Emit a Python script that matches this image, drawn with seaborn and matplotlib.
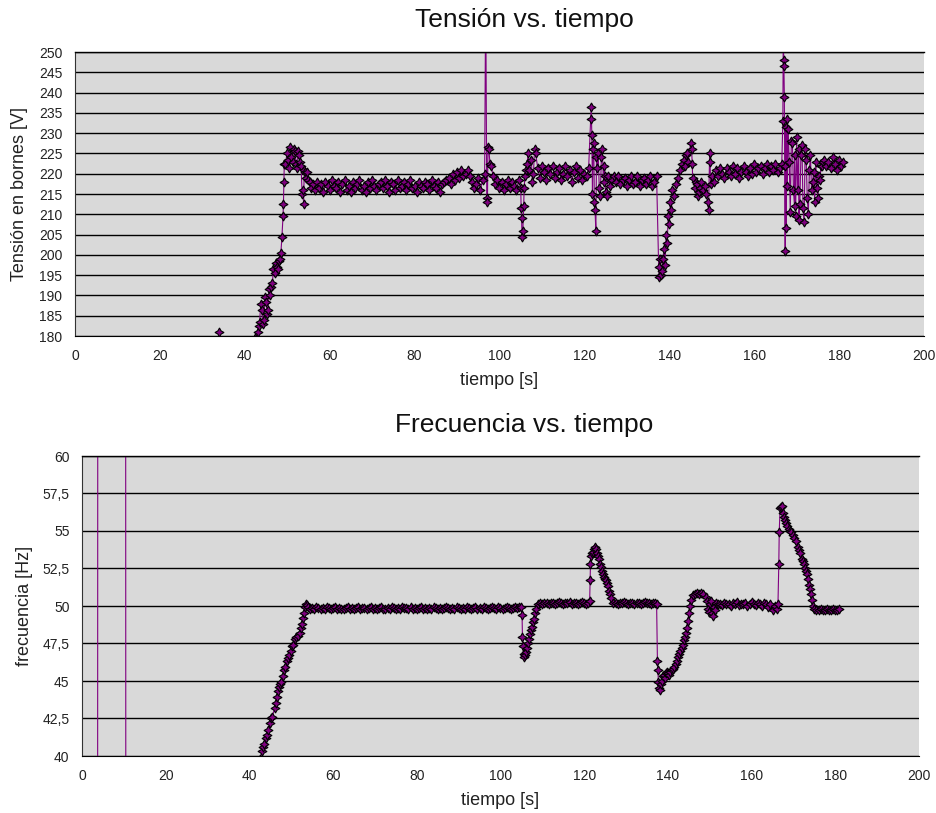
import matplotlib
matplotlib.use("Agg")
import matplotlib.pyplot as plt
import seaborn as sns
import numpy as np
import pandas as pd

# Tensión en bornes [V]: muestras cada 0,5 s a partir de t = 42,5 s
tension_inicio = 42.5
tension_v = [
    179.5, 181.0, 183.5, 186.5, 184.0, 188.5, 186.5, 190.0, 193.0, 195.5,  # 42.5
    197.0, 198.5, 200.5, 209.5, 222.5, 225.0, 221.5, 224.0, 226.0, 222.5,  # 47.5
    225.5, 223.0, 215.0, 221.0, 219.0, 218.5, 216.5, 217.5, 216.0, 218.0,  # 52.5
    216.5, 217.5, 215.5, 218.0, 217.0, 216.0, 218.5, 217.0, 216.5, 218.0,  # 57.5
    215.5, 217.5, 218.5, 216.0, 217.0, 215.5, 218.0, 216.5, 217.5, 218.5,  # 62.5
    216.0, 217.0, 215.5, 218.0, 216.5, 218.5, 217.0, 216.0, 217.5, 218.0,  # 67.5
    216.5, 218.5, 217.0, 215.5, 218.0, 217.5, 216.0, 218.5, 216.5, 217.0,  # 72.5
    218.0, 216.0, 217.5, 218.5, 216.5, 217.0, 215.5, 218.0, 217.0, 216.5,  # 77.5
    218.0, 217.5, 216.0, 218.5, 217.0, 216.5, 218.0, 215.5, 217.5, 218.0,  # 82.5
    218.5, 219.0, 217.5, 220.0, 218.5, 220.5, 219.0, 221.0, 219.5, 220.0,  # 87.5
    221.0, 219.5, 218.0, 216.5, 217.5, 219.0, 216.0, 218.5, 220.0, 214.0,  # 92.5
    226.0, 222.0, 219.5, 217.5, 218.5, 216.5, 218.0, 216.0, 217.5, 218.5,  # 97.5
    216.5, 218.0, 217.0, 216.0, 218.5, 216.5, 206.0, 219.5, 222.5, 221.0,  # 102.5
    223.5, 220.0, 225.0, 221.5, 219.0, 222.0, 220.5, 218.5, 221.5, 220.0,  # 107.5
    222.0, 219.0, 220.5, 221.5, 218.5, 220.0, 222.0, 219.5, 221.0, 218.0,  # 112.5
    220.5, 222.0, 219.0, 221.0, 218.5, 220.0, 219.5, 221.5, 233.5, 226.0,  # 117.5
    211.0, 221.5, 216.5, 224.0, 218.0, 215.5, 219.5, 217.0, 218.5, 219.5,  # 122.5
    218.0, 219.5, 217.5, 218.5, 219.0, 217.0, 218.5, 219.5, 217.5, 218.0,  # 127.5
    219.5, 217.0, 218.5, 219.0, 217.5, 218.5, 219.5, 217.0, 218.0, 219.5,  # 132.5
    197.0, 195.0, 199.0, 197.5, 203.0, 207.5, 211.0, 214.5, 217.5, 219.0,  # 137.5
    221.0, 222.5, 223.5, 224.5, 223.0, 227.5, 219.0, 216.5, 217.5, 215.5,  # 142.5
    218.0, 216.0, 217.0, 213.0, 225.0, 219.5, 218.0, 221.0, 219.5, 221.5,  # 147.5
    220.0, 219.0, 221.5, 220.5, 219.5, 222.0, 220.0, 221.5, 219.0, 220.5,  # 152.5
    222.0, 220.5, 219.5, 221.5, 220.0, 222.5, 220.5, 221.5, 222.0, 220.0,  # 157.5
    221.5, 222.5, 220.5, 222.0, 221.0, 222.5, 220.5, 221.5, 222.5, 246.5,  # 162.5
    206.5, 231.0, 210.5, 227.5, 212.0, 229.0, 208.5, 224.5, 211.5, 226.0,  # 167.5
    214.0, 221.0, 216.0, 220.5, 223.0, 214.0, 218.5, 222.0, 223.5, 222.0,  # 172.5
    223.0, 221.5, 224.0, 222.5, 221.0, 223.5, 222.0, 223.0,                # 177.5
]
# muestras sueltas y transitorios (t [s], V)
tension_extra_t = [
    34.0, 35.0, 40.0, 42.0,
    43.25, 43.75, 44.25, 44.75, 45.25, 45.75, 46.25, 46.75, 47.25, 47.75, 48.25,
    48.75, 49.1, 49.2, 49.3,
    50.25, 50.75, 51.25, 51.75, 52.25, 52.75, 53.25, 53.75, 53.85, 54.25, 54.75, 55.25,
    96.75, 97.15, 97.3, 97.75,
    105.1, 105.2, 105.3, 105.7, 105.8, 106.25, 106.75, 107.75, 108.25,
    121.6, 121.75, 121.9, 122.2, 122.35, 122.7, 122.85, 123.25, 123.75, 124.2, 124.7, 124.85, 125.25,
    137.65, 137.8, 138.25, 138.75, 139.25, 139.75, 140.25, 140.75,
    143.75, 144.25, 145.25, 145.4, 146.25, 146.75, 147.25,
    148.75, 149.25, 149.6, 149.75,
    166.75, 166.85, 166.95, 167.1, 167.2, 167.3, 167.4, 167.65, 167.8, 168.25, 168.75,
    169.25, 169.5, 169.75, 170.25, 170.5, 170.75, 171.25, 171.75, 172.25, 172.75,
    173.25, 173.75, 174.25, 174.75, 175.25, 175.75, 176.25,
]
tension_extra_v = [
    181.0, 165.0, 168.0, 176.0,
    182.5, 188.0, 183.0, 189.5, 185.5, 191.5, 192.0, 196.5, 198.0, 196.5, 199.0,
    204.5, 212.5, 218.0, 222.5,
    223.5, 226.5, 223.0, 225.5, 221.5, 224.5, 222.0, 216.0, 212.5, 220.5, 220.5, 218.0,
    265.0, 213.0, 226.5, 222.5,
    211.5, 209.0, 204.5, 212.0, 216.5, 221.0, 225.0, 218.0, 226.0,
    236.5, 229.5, 215.0, 227.5, 213.0, 206.0, 224.0, 225.0, 214.5, 226.0, 222.0, 219.5, 214.5,
    194.5, 199.0, 196.0, 201.5, 205.0, 209.5, 213.0, 216.0,
    222.0, 225.0, 226.0, 222.5, 218.0, 214.5, 216.5,
    215.0, 211.0, 223.0, 217.5,
    233.0, 256.0, 248.0, 239.0, 222.0, 201.0, 231.5, 233.5, 217.0, 223.0, 228.0,
    216.0, 224.5, 209.5, 216.0, 226.0, 212.5, 227.0, 208.0, 223.5, 210.0,
    224.5, 218.0, 213.0, 216.5, 219.5, 222.0, 223.0,
]

# Frecuencia [Hz]: muestras cada 0,5 s a partir de t = 42,5 s
frec_inicio = 42.5
frec_v = [
    39.8, 40.3, 40.8, 41.2, 41.7, 42.2, 42.6, 43.2, 43.9, 44.6,  # 42.5
    44.9, 45.3, 45.9, 46.3, 46.7, 47.0, 47.4, 47.8, 48.0, 48.2,  # 47.5
    48.8, 49.5, 50.1, 49.9, 49.8, 49.85, 49.8, 49.9, 49.85, 49.8,  # 52.5
    49.85, 49.8, 49.9, 49.85, 49.8, 49.85, 49.9, 49.8, 49.85, 49.8,  # 57.5
    49.8, 49.85, 49.9, 49.8, 49.85, 49.8, 49.85, 49.9, 49.8, 49.85,  # 62.5
    49.85, 49.8, 49.85, 49.9, 49.8, 49.85, 49.8, 49.85, 49.9, 49.8,  # 67.5
    49.8, 49.85, 49.8, 49.9, 49.85, 49.8, 49.85, 49.8, 49.9, 49.85,  # 72.5
    49.85, 49.8, 49.9, 49.8, 49.85, 49.8, 49.85, 49.9, 49.8, 49.85,  # 77.5
    49.8, 49.85, 49.8, 49.9, 49.85, 49.8, 49.85, 49.8, 49.85, 49.9,  # 82.5
    49.85, 49.8, 49.85, 49.8, 49.9, 49.85, 49.8, 49.85, 49.8, 49.9,  # 87.5
    49.85, 49.8, 49.85, 49.9, 49.8, 49.85, 49.8, 49.9, 49.85, 49.8,  # 92.5
    49.85, 49.9, 49.85, 49.8, 49.9, 49.85, 49.8, 49.85, 49.9, 49.85,  # 97.5
    49.8, 49.85, 49.9, 49.85, 49.9, 49.95, 46.8, 46.9, 47.5, 48.1,  # 102.5
    48.6, 49.1, 49.8, 50.1, 50.2, 50.15, 50.2, 50.2, 50.15, 50.2,  # 107.5
    50.2, 50.15, 50.2, 50.25, 50.2, 50.15, 50.2, 50.2, 50.25, 50.15,  # 112.5
    50.2, 50.2, 50.15, 50.2, 50.25, 50.2, 50.15, 50.2, 52.8, 53.6,  # 117.5
    53.9, 53.5, 53.1, 52.6, 52.1, 51.8, 51.5, 51.0, 50.5, 50.2,  # 122.5
    50.2, 50.15, 50.2, 50.2, 50.25, 50.2, 50.15, 50.2, 50.2, 50.15,  # 127.5
    50.2, 50.2, 50.15, 50.2, 50.25, 50.2, 50.2, 50.15, 50.2, 50.2,  # 132.5
    46.3, 44.4, 45.0, 45.4, 45.5, 45.5, 45.6, 45.7, 45.9, 46.1,  # 137.5
    46.6, 47.0, 47.4, 47.9, 48.5, 49.5, 50.4, 50.7, 50.8, 50.85,  # 142.5
    50.8, 50.85, 50.8, 50.6, 49.8, 50.1, 49.5, 49.9, 50.2, 50.1,  # 147.5
    50.15, 50.05, 50.2, 50.1, 50.15, 50.0, 50.2, 50.1, 50.25, 50.05,  # 152.5
    50.15, 50.1, 50.2, 50.0, 50.15, 50.25, 50.1, 50.05, 50.2, 50.15,  # 157.5
    50.0, 50.2, 50.1, 49.9, 50.15, 49.7, 50.0, 49.8, 52.8, 56.6,  # 162.5
    56.2, 55.7, 55.3, 55.1, 54.9, 54.7, 54.3, 53.9, 53.5, 53.1,  # 167.5
    52.8, 52.3, 51.8, 51.1, 50.4, 49.8, 49.75, 49.75, 49.8, 49.75,  # 172.5
    49.75, 49.8, 49.75, 49.75, 49.8, 49.75, 49.75, 49.8,  # 177.5
]
# lecturas iniciales sin señal (fuera de escala) y transitorios (t [s], Hz)
frec_extra_t = [
    0.5, 3.7, 3.8, 10.4, 10.5, 25.0, 42.0,
    43.25, 44.25, 45.25, 46.25, 46.75, 47.25, 48.25, 49.25, 50.25, 51.25, 52.25, 52.75, 53.25, 53.75,
    105.15, 105.25, 105.35, 105.7, 105.85, 106.25, 106.75, 107.25, 107.75, 108.25,
    121.3, 121.4, 121.6, 121.75, 122.25, 122.75, 123.25, 123.75, 124.25, 124.75, 125.25, 125.75, 126.25,
    137.3, 137.6, 137.75, 137.9, 138.25, 138.75, 139.25, 139.75, 140.25, 141.25, 142.25, 142.75,
    143.25, 143.75, 144.25, 144.75, 145.25,
    149.25, 149.75, 150.25, 150.75, 151.25,
    166.3, 166.6, 166.8, 167.2, 167.75, 168.25, 169.25, 170.25, 171.25, 172.25, 172.75,
    173.25, 173.75, 174.25, 174.75,
]
frec_extra_v = [
    0.0, 0.0, 100.0, 100.0, 0.0, 0.0, 0.0,
    40.6, 41.4, 42.5, 43.5, 44.3, 44.8, 45.7, 46.5, 47.3, 47.9, 48.5, 49.2, 49.9, 50.05,
    49.4, 47.9, 47.3, 46.6, 46.7, 47.2, 47.8, 48.4, 48.9, 49.5,
    50.3, 51.7, 53.3, 53.5, 53.8, 53.8, 53.3, 52.8, 52.3, 51.9, 51.7, 51.3, 50.8,
    50.15, 45.7, 44.9, 44.5, 44.8, 45.3, 45.2, 45.6, 45.4, 45.8, 46.3, 46.8,
    47.2, 47.7, 48.2, 49.0, 50.0,
    50.3, 49.6, 50.3, 49.3, 49.7,
    50.1, 54.9, 56.5, 56.65, 55.9, 55.5, 55.0, 54.5, 53.7, 53.0, 52.5,
    52.1, 51.4, 50.8, 50.0,
]

x_ticks = [0, 20, 40, 60, 80, 100, 120, 140, 160, 180, 200]
tension_ticks = list(range(180, 251, 5))
frec_ticks = [40, 42.5, 45, 47.5, 50, 52.5, 55, 57.5, 60]
frec_tick_labels = ["40", "42,5", "45", "47,5", "50", "52,5", "55", "57,5", "60"]


def armar_serie(inicio, base, extra_t, extra_v):
    t = inicio + 0.5 * np.arange(len(base))
    df = pd.DataFrame({"t": np.concatenate([t, extra_t]),
                       "v": np.concatenate([base, extra_v])})
    return df.sort_values("t").reset_index(drop=True)


df_tension = armar_serie(tension_inicio, tension_v, tension_extra_t, tension_extra_v)
df_frec = armar_serie(frec_inicio, frec_v, frec_extra_t, frec_extra_v)

sns.set_style("white")
plt.rcParams["font.family"] = ["Liberation Sans", "DejaVu Sans"]

violeta = "#800080"
fondo = "#d9d9d9"

fig = plt.figure(figsize=(9.37, 8.13), dpi=100)
ax1 = fig.add_axes([75 / 937, 1 - 336 / 813, 849 / 937, 284 / 813])
ax2 = fig.add_axes([82 / 937, 1 - 756 / 813, 837 / 937, 300 / 813])


def estilo(ax):
    ax.set_facecolor(fondo)
    ax.set_xlim(0, 200)
    ax.set_xticks(x_ticks)
    ax.yaxis.grid(True, color="black", linewidth=1.0)
    ax.xaxis.grid(False)
    ax.set_axisbelow(True)
    ax.spines["right"].set_visible(False)
    ax.spines["top"].set_color("black")
    ax.spines["top"].set_linewidth(1.0)
    ax.spines["left"].set_color("#333333")
    ax.spines["bottom"].set_color("black")
    ax.tick_params(axis="both", direction="out", length=5, width=1, color="black",
                   labelsize=10, labelcolor="#222222", pad=4)
    ax.set_xlabel("tiempo [s]", fontsize=13, color="#222222")


def serie(df, ax):
    sns.lineplot(data=df, x="t", y="v", ax=ax, sort=False, estimator=None,
                 color=violeta, linewidth=0.8, marker=(4, 1, 0), markersize=6.5,
                 markerfacecolor=violeta, markeredgecolor="black", markeredgewidth=0.8)


serie(df_tension, ax1)
estilo(ax1)
ax1.set_ylim(180, 250)
ax1.set_yticks(tension_ticks)
ax1.set_ylabel("Tensión en bornes [V]", fontsize=13, color="#222222")
ax1.yaxis.set_label_coords(-0.065, 0.5)
ax1.xaxis.set_label_coords(0.5, -0.155)
ax1.xaxis.label.set_va("center")
ax1.yaxis.label.set_va("center")

serie(df_frec, ax2)
estilo(ax2)
ax2.set_ylim(40, 60)
ax2.set_yticks(frec_ticks)
ax2.set_yticklabels(frec_tick_labels)
ax2.set_ylabel("frecuencia [Hz]", fontsize=13, color="#222222")
ax2.yaxis.set_label_coords(-0.069, 0.5)
ax2.xaxis.set_label_coords(0.5, -0.147)
ax2.xaxis.label.set_va("center")
ax2.yaxis.label.set_va("center")

fig.text(524 / 937, 1 - 20 / 813, "Tensión vs. tiempo", ha="center", va="center",
         fontsize=19, color="#111111")
fig.text(524 / 937, 1 - 425 / 813, "Frecuencia vs. tiempo", ha="center", va="center",
         fontsize=19, color="#111111")

fig.savefig("out.png", dpi=100, facecolor="white")
